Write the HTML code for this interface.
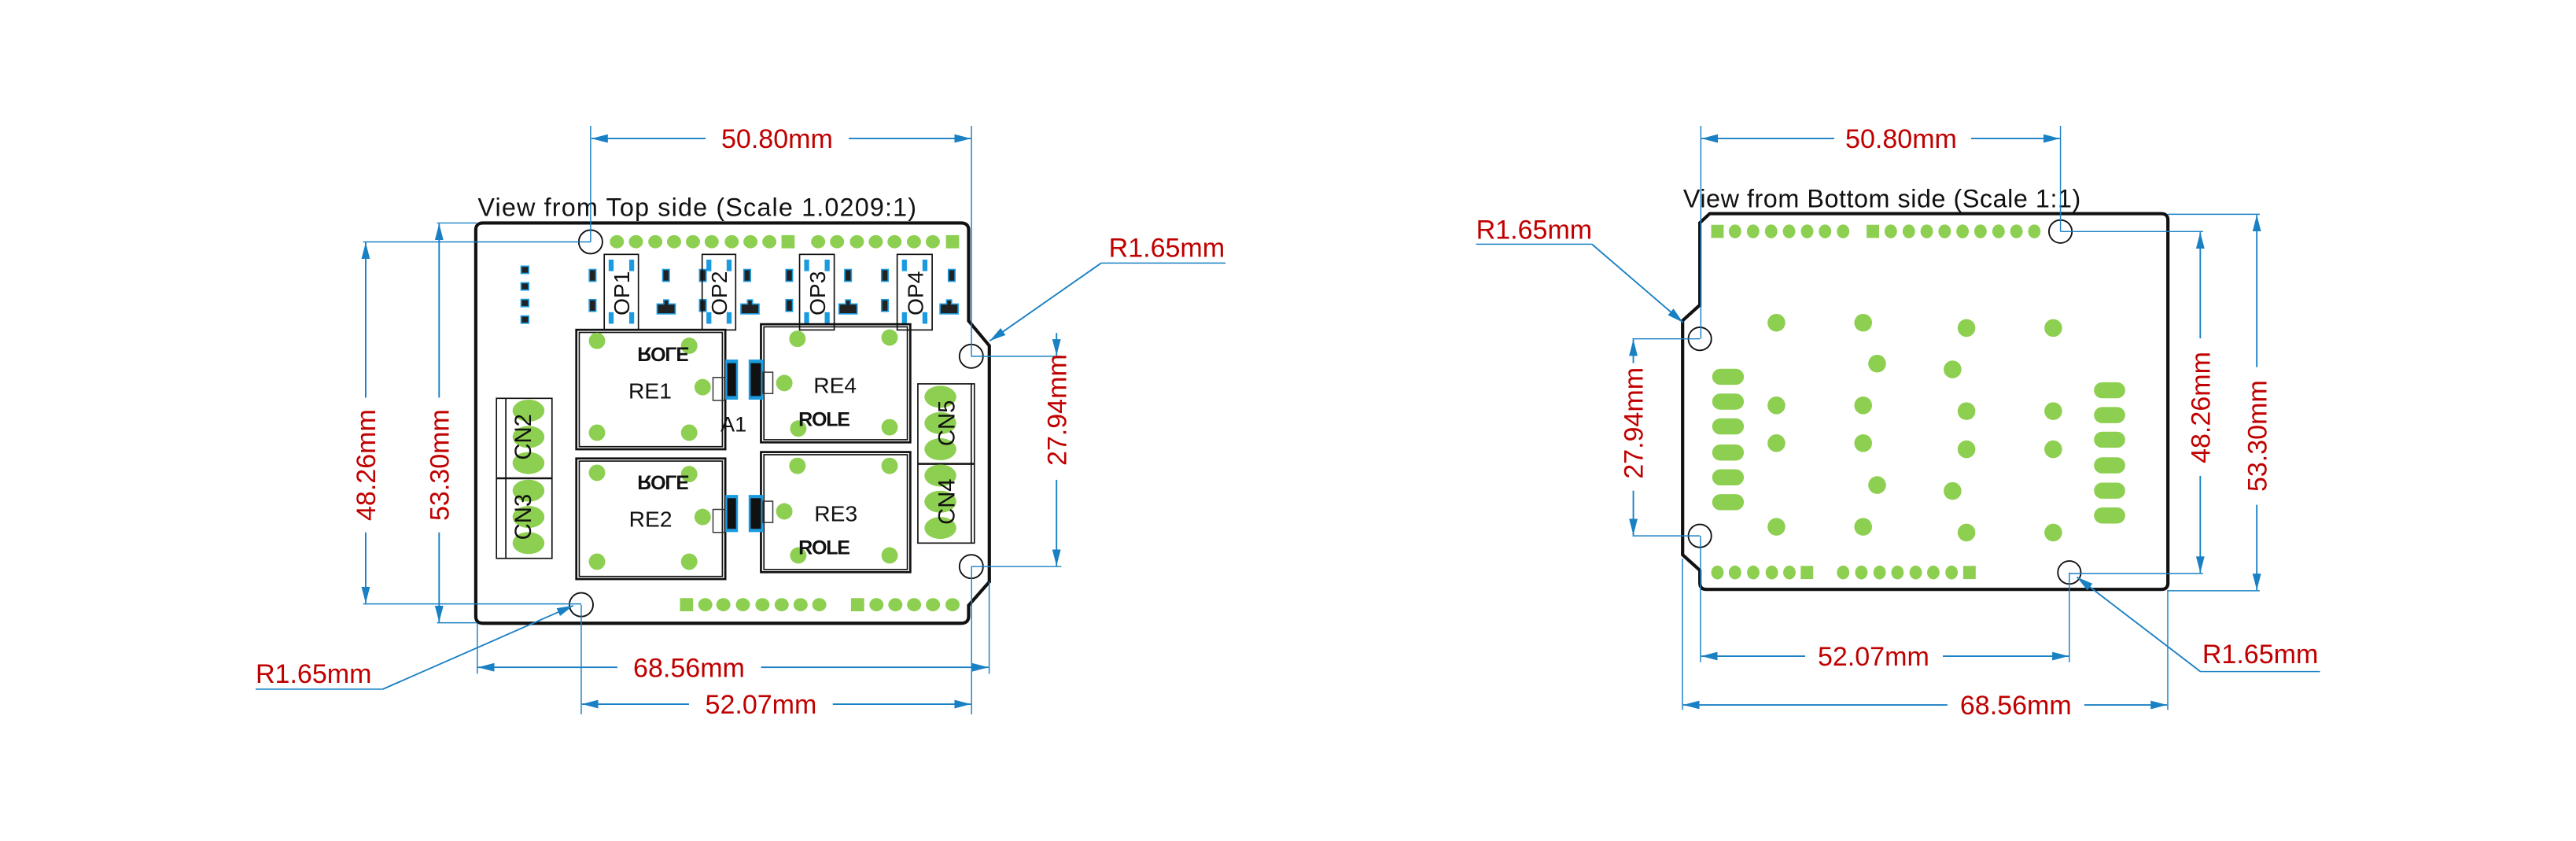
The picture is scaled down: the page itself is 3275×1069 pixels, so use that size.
<!DOCTYPE html>
<html><head><meta charset="utf-8"><style>
html,body{margin:0;padding:0;background:#fff;}
svg{display:block;}
text{font-family:"Liberation Sans",Arial,sans-serif;}
.r{fill:#c00000;font-size:16.3px;}
.b{fill:none;stroke:#1a80c4;stroke-width:0.7;}
.ba{fill:none;stroke:#1a80c4;stroke-width:0.9;marker-end:url(#ar);}
.g{fill:#8dcf50;}
.k{fill:none;stroke:#111;stroke-width:0.8;}
.h{fill:none;stroke:#111;stroke-width:0.9;}
.t{fill:#111;}
</style></head><body>
<svg width="3275" height="1069" viewBox="0 0 1568 511.8" preserveAspectRatio="none" xmlns="http://www.w3.org/2000/svg">
<defs>
<marker id="ar" markerUnits="userSpaceOnUse" markerWidth="11" markerHeight="6" refX="10" refY="2.6" orient="auto"><path d="M0,0 L10,2.6 L0,5.2 z" fill="#1a80c4"/></marker>
</defs>
<rect width="1568" height="511.8" fill="#fff"/>

<!-- ================= TOP VIEW ================= -->
<text x="290.8" y="131.5" font-size="15.5" textLength="267" fill="#111">View from Top side (Scale 1.0209:1)</text>
<path d="M294 135.7 H585 Q589.6 135.7 589.6 140 V195.3 L602.2 210.4 V354.1 L589.6 368.4 V375 Q589.6 379.3 585 379.3 H294 Q289.6 379.3 289.6 375 V140 Q289.6 135.7 294 135.7 Z" fill="#fff" stroke="#111" stroke-width="2"/>

<!-- holes -->
<circle cx="359.5" cy="147.2" r="7.2" class="h"/>
<circle cx="591.2" cy="216.8" r="7.2" class="h"/>
<circle cx="591.2" cy="344.8" r="7.2" class="h"/>
<circle cx="353.8" cy="368" r="7.2" class="h"/>

<!-- top pin row -->
<g class="g">
<ellipse cx="375.5" cy="147.1" rx="4.3" ry="4"/><ellipse cx="387.1" cy="147.1" rx="4.3" ry="4"/><ellipse cx="398.9" cy="147.1" rx="4.3" ry="4"/><ellipse cx="410.3" cy="147.1" rx="4.3" ry="4"/><ellipse cx="421.8" cy="147.1" rx="4.3" ry="4"/><ellipse cx="433.2" cy="147.1" rx="4.3" ry="4"/><ellipse cx="445.4" cy="147.1" rx="4.3" ry="4"/><ellipse cx="456.8" cy="147.1" rx="4.3" ry="4"/><ellipse cx="468.3" cy="147.1" rx="4.3" ry="4"/><rect x="475.7" y="143.1" width="8" height="8"/>
<ellipse cx="498" cy="147.1" rx="4.3" ry="4"/><ellipse cx="509.5" cy="147.1" rx="4.3" ry="4"/><ellipse cx="521.6" cy="147.1" rx="4.3" ry="4"/><ellipse cx="533.1" cy="147.1" rx="4.3" ry="4"/><ellipse cx="544.5" cy="147.1" rx="4.3" ry="4"/><ellipse cx="556.3" cy="147.1" rx="4.3" ry="4"/><ellipse cx="567.8" cy="147.1" rx="4.3" ry="4"/><rect x="575.8" y="143.1" width="8" height="8"/>
<!-- bottom row -->
<rect x="413.9" y="364" width="8" height="8"/><ellipse cx="429.3" cy="368" rx="4.3" ry="4"/><ellipse cx="440.3" cy="368" rx="4.3" ry="4"/><ellipse cx="452.2" cy="368" rx="4.3" ry="4"/><ellipse cx="464.1" cy="368" rx="4.3" ry="4"/><ellipse cx="475.8" cy="368" rx="4.3" ry="4"/><ellipse cx="487.3" cy="368" rx="4.3" ry="4"/><ellipse cx="498.7" cy="368" rx="4.3" ry="4"/>
<rect x="518" y="364" width="8" height="8"/><ellipse cx="533.5" cy="368" rx="4.3" ry="4"/><ellipse cx="545" cy="368" rx="4.3" ry="4"/><ellipse cx="556.4" cy="368" rx="4.3" ry="4"/><ellipse cx="567.9" cy="368" rx="4.3" ry="4"/><ellipse cx="579.8" cy="368" rx="4.3" ry="4"/>
</g>

<!-- left small components column -->
<g>
<rect x="317.2" y="162" width="4.6" height="4.4" fill="#222" stroke="#1a9be0" stroke-width="0.8"/>
<rect x="317.2" y="172.1" width="4.6" height="4.4" fill="#222" stroke="#1a9be0" stroke-width="0.8"/>
<rect x="317.2" y="182.2" width="4.6" height="4.4" fill="#222" stroke="#1a9be0" stroke-width="0.8"/>
<rect x="317.2" y="192.3" width="4.6" height="4.4" fill="#222" stroke="#1a9be0" stroke-width="0.8"/>
</g>

<!-- OP area small parts -->
<g fill="#222" stroke="#1a9be0" stroke-width="0.8">
<rect x="358.7" y="164" width="4" height="7.2"/><rect x="358.7" y="182.3" width="4" height="7.2"/>
<rect x="403.4" y="164" width="4" height="7.2"/><path d="M400 185 h4 v-2.5 h3 v2.5 h4 v6 h-11 z"/>
<rect x="425.8" y="164" width="4" height="7.2"/><rect x="425.8" y="182.3" width="4" height="7.2"/>
<rect x="452.8" y="164" width="4" height="7.2"/><path d="M451 185 h4 v-2.5 h3 v2.5 h4 v6 h-11 z"/>
<rect x="478.4" y="164" width="4" height="7.2"/><rect x="478.4" y="182.3" width="4" height="7.2"/>
<rect x="514.2" y="164" width="4" height="7.2"/><path d="M510.7 185 h4 v-2.5 h3 v2.5 h4 v6 h-11 z"/>
<rect x="536.6" y="164" width="4" height="7.2"/><rect x="536.6" y="182.3" width="4" height="7.2"/>
<rect x="577.3" y="164" width="4" height="7.2"/><path d="M572.2 185 h4 v-2.5 h3 v2.5 h4 v6 h-11 z"/>
</g>

<!-- OP boxes -->
<g>
<rect x="367.8" y="154.8" width="20.8" height="46" class="k"/>
<rect x="427.4" y="154.8" width="20.4" height="46" class="k"/>
<rect x="486.7" y="154.8" width="21.1" height="46" class="k"/>
<rect x="546.1" y="154.8" width="21.3" height="46" class="k"/>
<g fill="#1a9be0">
<rect x="370.5" y="158" width="3" height="7"/><rect x="383" y="158" width="3" height="7"/><rect x="370.5" y="190" width="3" height="7"/><rect x="383" y="190" width="3" height="7"/>
<rect x="430" y="158" width="3" height="7"/><rect x="442.3" y="158" width="3" height="7"/><rect x="430" y="190" width="3" height="7"/><rect x="442.3" y="190" width="3" height="7"/>
<rect x="489.5" y="158" width="3" height="7"/><rect x="502" y="158" width="3" height="7"/><rect x="489.5" y="190" width="3" height="7"/><rect x="502" y="190" width="3" height="7"/>
<rect x="549" y="158" width="3" height="7"/><rect x="561.5" y="158" width="3" height="7"/><rect x="549" y="190" width="3" height="7"/><rect x="561.5" y="190" width="3" height="7"/>
</g>
<text transform="translate(383,178.5) rotate(-90)" text-anchor="middle" font-size="13.5" fill="#111">OP1</text>
<text transform="translate(442.5,178.5) rotate(-90)" text-anchor="middle" font-size="13.5" fill="#111">OP2</text>
<text transform="translate(502.3,178.5) rotate(-90)" text-anchor="middle" font-size="13.5" fill="#111">OP3</text>
<text transform="translate(561.8,178.5) rotate(-90)" text-anchor="middle" font-size="13.5" fill="#111">OP4</text>
</g>

<!-- relays -->
<g>
<rect x="350.8" y="200.7" width="90.7" height="72.7" fill="none" stroke="#111" stroke-width="1.3"/>
<rect x="352.6" y="202.3" width="87.1" height="69.5" class="k"/>
<rect x="463.2" y="197.3" width="90.9" height="71.9" fill="none" stroke="#111" stroke-width="1.3"/>
<rect x="465" y="198.9" width="87.3" height="68.7" class="k"/>
<rect x="350.8" y="279" width="90.7" height="73.4" fill="none" stroke="#111" stroke-width="1.3"/>
<rect x="352.6" y="280.6" width="87.1" height="70.2" class="k"/>
<rect x="463.2" y="275.1" width="90.9" height="73.1" fill="none" stroke="#111" stroke-width="1.3"/>
<rect x="465" y="276.7" width="87.3" height="69.9" class="k"/>
</g>
<g class="g">
<circle cx="363.4" cy="207.4" r="5"/><circle cx="419.5" cy="210.4" r="5"/><circle cx="363.4" cy="263.3" r="5"/><circle cx="419.5" cy="263.3" r="5"/><circle cx="427.7" cy="235.6" r="5"/>
<circle cx="485.4" cy="206.2" r="5"/><circle cx="541.5" cy="205.4" r="5"/><circle cx="485.9" cy="260.8" r="5"/><circle cx="541.5" cy="260" r="5"/><circle cx="477.4" cy="233.1" r="5"/>
<circle cx="363.4" cy="287.7" r="5"/><circle cx="419.5" cy="288.5" r="5"/><circle cx="363.4" cy="341.8" r="5"/><circle cx="419.5" cy="341.8" r="5"/><circle cx="427.7" cy="314.6" r="5"/>
<circle cx="485.4" cy="283.5" r="5"/><circle cx="541.5" cy="283.5" r="5"/><circle cx="485.9" cy="338" r="5"/><circle cx="541.5" cy="338" r="5"/><circle cx="477.4" cy="311.2" r="5"/>
</g>
<g fill="#111">
<text x="395.7" y="242.5" font-size="13.5" text-anchor="middle">RE1</text>
<text x="508.3" y="239.2" font-size="13.5" text-anchor="middle">RE4</text>
<text x="396" y="320.5" font-size="13.5" text-anchor="middle">RE2</text>
<text x="508.8" y="317.2" font-size="13.5" text-anchor="middle">RE3</text>
<text x="446.5" y="262.5" font-size="13" text-anchor="middle">A1</text>
<text x="501.5" y="259.3" font-size="12" font-weight="bold" text-anchor="middle" letter-spacing="-0.6">ROLE</text>
<text x="501.5" y="337.3" font-size="12" font-weight="bold" text-anchor="middle" letter-spacing="-0.6">ROLE</text>
<text transform="translate(403.4,211.3) scale(1,-1)" font-size="12" font-weight="bold" text-anchor="middle" letter-spacing="-0.6">ROLE</text>
<text transform="translate(403.4,289.4) scale(1,-1)" font-size="12" font-weight="bold" text-anchor="middle" letter-spacing="-0.6">ROLE</text>
</g>
<!-- A1 parts -->
<g>
<rect x="434" y="229.7" width="7" height="14" fill="none" stroke="#333" stroke-width="0.7"/>
<rect x="441.5" y="218.8" width="7.7" height="24.4" fill="#1a9be0"/><rect x="442.7" y="221" width="5.3" height="20" fill="#111"/>
<rect x="455.7" y="218.8" width="8.7" height="24.4" fill="#1a9be0"/><rect x="456.9" y="221" width="6.3" height="20" fill="#111"/>
<rect x="464.4" y="226.5" width="6" height="13" fill="none" stroke="#333" stroke-width="0.7"/>
<rect x="434" y="310" width="7" height="14" fill="none" stroke="#333" stroke-width="0.7"/>
<rect x="441.5" y="301.2" width="7.7" height="22.6" fill="#1a9be0"/><rect x="442.7" y="303.2" width="5.3" height="18.6" fill="#111"/>
<rect x="455.7" y="301.2" width="8.7" height="22.6" fill="#1a9be0"/><rect x="456.9" y="303.2" width="6.3" height="18.6" fill="#111"/>
<rect x="464.4" y="305" width="6" height="13" fill="none" stroke="#333" stroke-width="0.7"/>
</g>

<!-- CN2/CN3 -->
<g>
<rect x="302.2" y="242.4" width="33.8" height="97.4" class="k"/>
<line x1="307.9" y1="242.4" x2="307.9" y2="339.8" class="k"/>
<line x1="302.2" y1="291.1" x2="336" y2="291.1" stroke="#111" stroke-width="1.2"/>
<g class="g">
<ellipse cx="321.7" cy="249.9" rx="9.7" ry="6.7"/><ellipse cx="321.7" cy="265.9" rx="9.7" ry="6.7"/><ellipse cx="321.7" cy="281.8" rx="9.7" ry="6.7"/>
<ellipse cx="321.7" cy="298.6" rx="9.7" ry="6.7"/><ellipse cx="321.7" cy="314.6" rx="9.7" ry="6.7"/><ellipse cx="321.7" cy="330.5" rx="9.7" ry="6.7"/>
</g>
<text transform="translate(323.2,265.9) rotate(-90)" text-anchor="middle" font-size="14" fill="#111">CN2</text>
<text transform="translate(323.2,314.6) rotate(-90)" text-anchor="middle" font-size="14" fill="#111">CN3</text>
</g>
<!-- CN5/CN4 -->
<g>
<rect x="558.7" y="233.6" width="34.4" height="96.9" class="k"/>
<line x1="591.2" y1="233.6" x2="591.2" y2="330.5" class="k"/>
<line x1="558.7" y1="282.3" x2="593.1" y2="282.3" stroke="#111" stroke-width="1.2"/>
<g class="g">
<ellipse cx="572.4" cy="241.5" rx="9.7" ry="6.7"/><ellipse cx="572.4" cy="257.5" rx="9.7" ry="6.7"/><ellipse cx="572.4" cy="273.4" rx="9.7" ry="6.7"/>
<ellipse cx="572.4" cy="289.4" rx="9.7" ry="6.7"/><ellipse cx="572.4" cy="305.3" rx="9.7" ry="6.7"/><ellipse cx="572.4" cy="321.3" rx="9.7" ry="6.7"/>
</g>
<text transform="translate(581,257.5) rotate(-90)" text-anchor="middle" font-size="14" fill="#111">CN5</text>
<text transform="translate(581,305.3) rotate(-90)" text-anchor="middle" font-size="14" fill="#111">CN4</text>
</g>

<!-- top view dimensions -->
<line x1="359.5" y1="76.6" x2="359.5" y2="147.2" class="b"/>
<line x1="591.3" y1="76.6" x2="591.3" y2="216.8" class="b"/>
<line x1="429.5" y1="84.3" x2="360" y2="84.3" class="ba"/>
<line x1="516.6" y1="84.3" x2="591" y2="84.3" class="ba"/>
<text x="473" y="90" class="r" text-anchor="middle">50.80mm</text>

<line x1="221" y1="147.2" x2="359.5" y2="147.2" class="b"/>
<line x1="221" y1="367.5" x2="353.8" y2="367.5" class="b"/>
<line x1="222.6" y1="242" x2="222.6" y2="147.6" class="ba"/>
<line x1="222.6" y1="324" x2="222.6" y2="367.1" class="ba"/>
<text transform="translate(228.4,283) rotate(-90)" class="r" text-anchor="middle">48.26mm</text>

<line x1="266" y1="135.7" x2="290" y2="135.7" class="b"/>
<line x1="266" y1="379" x2="290" y2="379" class="b"/>
<line x1="267.3" y1="242" x2="267.3" y2="136.1" class="ba"/>
<line x1="267.3" y1="324" x2="267.3" y2="378.6" class="ba"/>
<text transform="translate(273.1,283) rotate(-90)" class="r" text-anchor="middle">53.30mm</text>

<line x1="591.2" y1="216.8" x2="646" y2="216.8" class="b"/>
<line x1="591.2" y1="344.8" x2="646" y2="344.8" class="b"/>
<line x1="643.1" y1="202.6" x2="643.1" y2="216.4" class="ba"/>
<line x1="643.1" y1="292" x2="643.1" y2="344.4" class="ba"/>
<text transform="translate(648.9,249.5) rotate(-90)" class="r" text-anchor="middle">27.94mm</text>

<line x1="290.5" y1="379" x2="290.5" y2="410" class="b"/>
<line x1="602.1" y1="354" x2="602.1" y2="410" class="b"/>
<line x1="375.8" y1="406.1" x2="290.9" y2="406.1" class="ba"/>
<line x1="463.2" y1="406.1" x2="601.7" y2="406.1" class="ba"/>
<text x="419.4" y="411.9" class="r" text-anchor="middle">68.56mm</text>

<line x1="353.8" y1="368" x2="353.8" y2="434.7" class="b"/>
<line x1="591.4" y1="344.8" x2="591.4" y2="434.7" class="b"/>
<line x1="419.4" y1="428.5" x2="354.2" y2="428.5" class="ba"/>
<line x1="506.9" y1="428.5" x2="591" y2="428.5" class="ba"/>
<text x="463.2" y="434.3" class="r" text-anchor="middle">52.07mm</text>

<text x="155.6" y="415.6" class="r">R1.65mm</text>
<polyline points="155.6,419.4 233,419.4" class="b"/>
<line x1="233" y1="419.4" x2="349" y2="368.5" class="ba"/>

<text x="674.9" y="156.4" class="r">R1.65mm</text>
<line x1="670.3" y1="160.1" x2="746" y2="160.1" class="b"/>
<line x1="670.3" y1="160.1" x2="602.4" y2="207.5" class="ba"/>

<!-- ================= BOTTOM VIEW ================= -->
<text x="1024.5" y="126.1" font-size="15.5" textLength="242" fill="#111">View from Bottom side (Scale 1:1)</text>
<path d="M1040.7 130 H1315.5 Q1319.6 130 1319.6 134 V354.7 Q1319.6 358.7 1315.5 358.7 H1038.7 Q1034.7 358.7 1034.7 354.7 V347.1 L1024.2 337.6 V195.1 L1034.7 185.6 V135.6 Z" fill="#fff" stroke="#111" stroke-width="2"/>

<circle cx="1254.2" cy="140.9" r="7" class="h"/>
<circle cx="1034.7" cy="206.2" r="7" class="h"/>
<circle cx="1034.7" cy="326.1" r="7" class="h"/>
<circle cx="1259.6" cy="348.4" r="7" class="h"/>

<g class="g">
<rect x="1041.6" y="136.8" width="7.6" height="8"/>
<ellipse cx="1056.1" cy="140.8" rx="3.8" ry="4.2"/><ellipse cx="1067.1" cy="140.8" rx="3.8" ry="4.2"/><ellipse cx="1078.1" cy="140.8" rx="3.8" ry="4.2"/><ellipse cx="1089" cy="140.8" rx="3.8" ry="4.2"/><ellipse cx="1100" cy="140.8" rx="3.8" ry="4.2"/><ellipse cx="1110.9" cy="140.8" rx="3.8" ry="4.2"/><ellipse cx="1121.9" cy="140.8" rx="3.8" ry="4.2"/>
<rect x="1136.2" y="136.8" width="7.6" height="8"/>
<ellipse cx="1150.9" cy="140.8" rx="3.8" ry="4.2"/><ellipse cx="1161.9" cy="140.8" rx="3.8" ry="4.2"/><ellipse cx="1172.8" cy="140.8" rx="3.8" ry="4.2"/><ellipse cx="1183.7" cy="140.8" rx="3.8" ry="4.2"/><ellipse cx="1194.6" cy="140.8" rx="3.8" ry="4.2"/><ellipse cx="1205.5" cy="140.8" rx="3.8" ry="4.2"/><ellipse cx="1216.5" cy="140.8" rx="3.8" ry="4.2"/><ellipse cx="1227.4" cy="140.8" rx="3.8" ry="4.2"/><ellipse cx="1238.3" cy="140.8" rx="3.8" ry="4.2"/>
<ellipse cx="1045.4" cy="348.4" rx="3.8" ry="4.2"/><ellipse cx="1056.1" cy="348.4" rx="3.8" ry="4.2"/><ellipse cx="1067.2" cy="348.4" rx="3.8" ry="4.2"/><ellipse cx="1078.5" cy="348.4" rx="3.8" ry="4.2"/><ellipse cx="1089.2" cy="348.4" rx="3.8" ry="4.2"/><rect x="1096.1" y="344.4" width="7.6" height="8"/>
<ellipse cx="1121.9" cy="348.4" rx="3.8" ry="4.2"/><ellipse cx="1133" cy="348.4" rx="3.8" ry="4.2"/><ellipse cx="1144.1" cy="348.4" rx="3.8" ry="4.2"/><ellipse cx="1155" cy="348.4" rx="3.8" ry="4.2"/><ellipse cx="1166.1" cy="348.4" rx="3.8" ry="4.2"/><ellipse cx="1176.8" cy="348.4" rx="3.8" ry="4.2"/><ellipse cx="1187.9" cy="348.4" rx="3.8" ry="4.2"/><rect x="1195" y="344.4" width="7.6" height="8"/>

<circle cx="1081.3" cy="196.4" r="5.4"/><circle cx="1081.3" cy="246.7" r="5.4"/><circle cx="1081.3" cy="269.7" r="5.4"/><circle cx="1081.3" cy="320.6" r="5.4"/>
<circle cx="1134.1" cy="196.4" r="5.4"/><circle cx="1134.1" cy="246.7" r="5.4"/><circle cx="1134.1" cy="269.7" r="5.4"/><circle cx="1134.1" cy="320.6" r="5.4"/>
<circle cx="1142.6" cy="221.3" r="5.4"/><circle cx="1142.6" cy="295.2" r="5.4"/>
<circle cx="1188.5" cy="224.8" r="5.4"/><circle cx="1188.5" cy="298.8" r="5.4"/>
<circle cx="1197" cy="199.6" r="5.4"/><circle cx="1197" cy="250.2" r="5.4"/><circle cx="1197" cy="273.4" r="5.4"/><circle cx="1197" cy="324.1" r="5.4"/>
<circle cx="1249.8" cy="199.6" r="5.4"/><circle cx="1249.8" cy="250.2" r="5.4"/><circle cx="1249.8" cy="273.4" r="5.4"/><circle cx="1249.8" cy="324.1" r="5.4"/>

<rect x="1042.2" y="224.4" width="19.3" height="9.8" rx="4.9"/><rect x="1042.2" y="239.5" width="19.3" height="9.8" rx="4.9"/><rect x="1042.2" y="254.6" width="19.3" height="9.8" rx="4.9"/><rect x="1042.2" y="270.5" width="19.3" height="9.8" rx="4.9"/><rect x="1042.2" y="285.6" width="19.3" height="9.8" rx="4.9"/><rect x="1042.2" y="300.7" width="19.3" height="9.8" rx="4.9"/>
<rect x="1274.6" y="232.6" width="19" height="9.8" rx="4.9"/><rect x="1274.6" y="247.7" width="19" height="9.8" rx="4.9"/><rect x="1274.6" y="262.7" width="19" height="9.8" rx="4.9"/><rect x="1274.6" y="278.3" width="19" height="9.8" rx="4.9"/><rect x="1274.6" y="293.7" width="19" height="9.8" rx="4.9"/><rect x="1274.6" y="308.8" width="19" height="9.8" rx="4.9"/>
</g>

<!-- bottom view dims -->
<line x1="1035.3" y1="76.6" x2="1035.3" y2="206.2" class="b"/>
<line x1="1254.2" y1="76.6" x2="1254.2" y2="140.9" class="b"/>
<line x1="1116.5" y1="84.3" x2="1035.7" y2="84.3" class="ba"/>
<line x1="1199.8" y1="84.3" x2="1253.8" y2="84.3" class="ba"/>
<text x="1157.2" y="90" class="r" text-anchor="middle">50.80mm</text>

<text x="898.5" y="145.2" class="r">R1.65mm</text>
<line x1="898.5" y1="148.6" x2="969" y2="148.6" class="b"/>
<line x1="969" y1="148.6" x2="1024.5" y2="196.3" class="ba"/>

<line x1="993.7" y1="206.2" x2="1034.7" y2="206.2" class="b"/>
<line x1="993.7" y1="326.1" x2="1034.7" y2="326.1" class="b"/>
<line x1="994.2" y1="221" x2="994.2" y2="206.6" class="ba"/>
<line x1="994.2" y1="298.6" x2="994.2" y2="325.7" class="ba"/>
<text transform="translate(1000,257.5) rotate(-90)" class="r" text-anchor="middle">27.94mm</text>

<line x1="1254.2" y1="140.9" x2="1341" y2="140.9" class="b"/>
<line x1="1259.6" y1="349" x2="1341" y2="349" class="b"/>
<line x1="1339.3" y1="205.9" x2="1339.3" y2="141.3" class="ba"/>
<line x1="1339.3" y1="289.6" x2="1339.3" y2="348.6" class="ba"/>
<text transform="translate(1345.1,248) rotate(-90)" class="r" text-anchor="middle">48.26mm</text>

<line x1="1319.6" y1="130.4" x2="1375.5" y2="130.4" class="b"/>
<line x1="1319.6" y1="359.5" x2="1375.5" y2="359.5" class="b"/>
<line x1="1373.7" y1="223.4" x2="1373.7" y2="130.8" class="ba"/>
<line x1="1373.7" y1="307.2" x2="1373.7" y2="359.1" class="ba"/>
<text transform="translate(1379.5,265.3) rotate(-90)" class="r" text-anchor="middle">53.30mm</text>

<line x1="1024.1" y1="340" x2="1024.1" y2="432" class="b"/>
<line x1="1035.1" y1="326.1" x2="1035.1" y2="403" class="b"/>
<line x1="1259.6" y1="348.4" x2="1259.6" y2="403" class="b"/>
<line x1="1319.5" y1="359" x2="1319.5" y2="432" class="b"/>
<line x1="1098.8" y1="399.3" x2="1035.5" y2="399.3" class="ba"/>
<line x1="1182.6" y1="399.3" x2="1259.2" y2="399.3" class="ba"/>
<text x="1140.4" y="405.1" class="r" text-anchor="middle">52.07mm</text>
<line x1="1185.4" y1="429" x2="1024.5" y2="429" class="ba"/>
<line x1="1268.7" y1="429" x2="1319.1" y2="429" class="ba"/>
<text x="1227" y="434.8" class="r" text-anchor="middle">68.56mm</text>

<text x="1340.5" y="403.5" class="r">R1.65mm</text>
<line x1="1412.2" y1="408.7" x2="1339.4" y2="408.7" class="b"/>
<line x1="1339.4" y1="408.7" x2="1264.2" y2="351.2" class="ba"/>
</svg>
</body></html>
